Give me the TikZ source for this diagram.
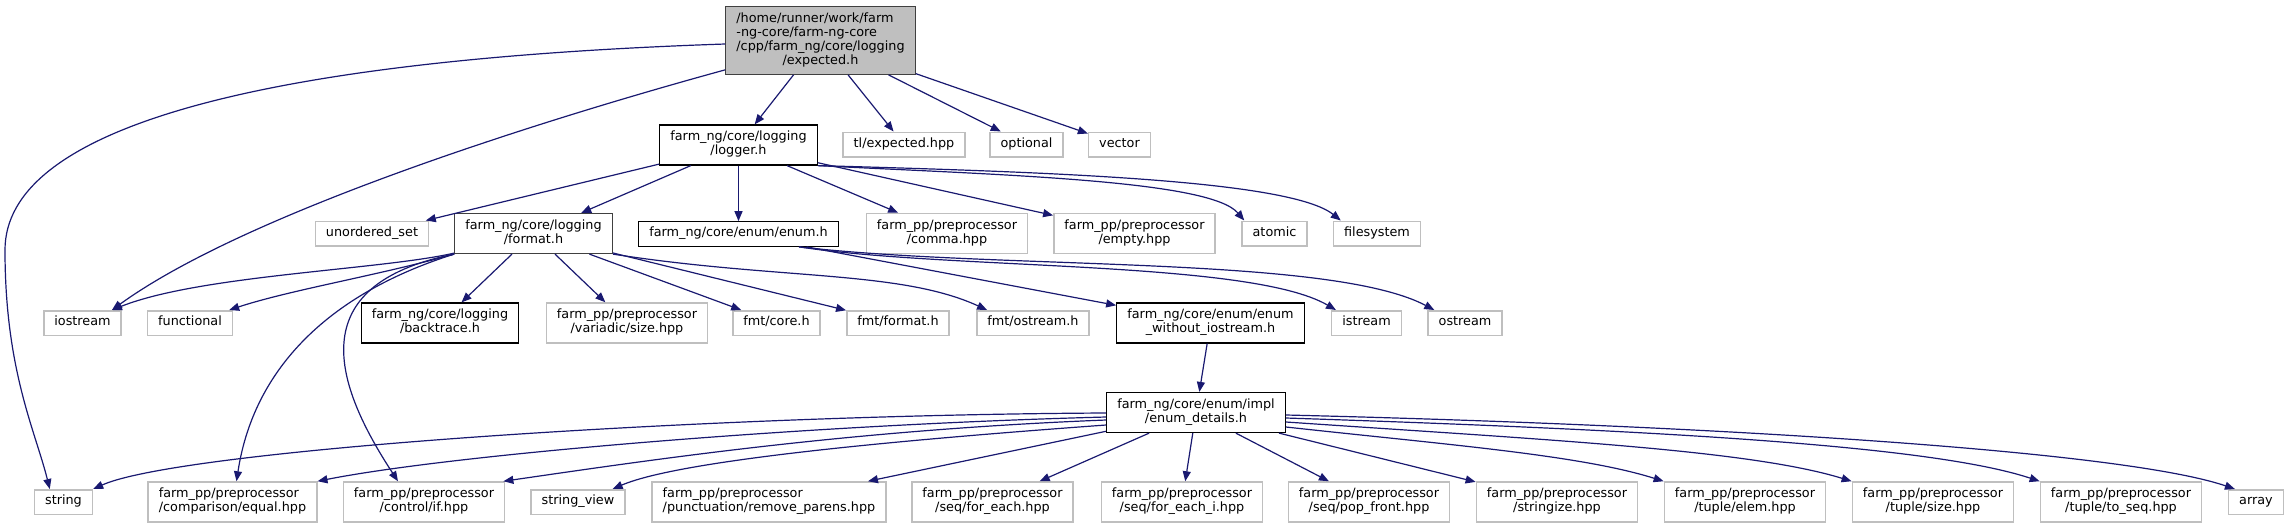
\documentclass[tikz,border=0pt]{standalone}
\usepackage{fontspec}
\setmainfont{DejaVu Sans}
\usepackage{tikz}
\usetikzlibrary{arrows.meta,calc}
\usepackage{xcolor}
\definecolor{edgeblue}{HTML}{191970}
\definecolor{sysgrey}{HTML}{BFBFBF}
\definecolor{darkframe}{HTML}{404040}
\newcommand{\doxfont}{\fontsize{12.8}{14.2}\selectfont}

\begin{document}
\begin{tikzpicture}[x=1pt,y=-1pt,font=\doxfont,
  file/.style={draw=black,line width=1.2pt,inner xsep=10.6pt,inner ysep=0pt,minimum height=24.5pt,execute at begin node=\strut,execute at end node=\strut},
  sys/.style={file,draw=sysgrey,line width=1.5pt},
  two/.style={align=center,minimum height=40pt},
  twol/.style={align=left,minimum height=40pt},
  dep/.style={draw=edgeblue,line width=1.2pt,-{Triangle[length=10pt,width=8pt]}}]
\useasboundingbox (0,0) rectangle (2289,528);

\node[file,draw=darkframe,fill=sysgrey,minimum height=67.5pt] (exp) at (820.5,40.5) {\begin{tabular}{@{}l@{}}/home/runner/work/farm\\-ng-core/farm-ng-core\\/cpp/farm\_ng/core/logging\\\multicolumn{1}{@{}c@{}}{/expected.h}\end{tabular}};

\node[file,two] (logger) at (738.5,145) {farm\_ng/core/logging\\/logger.h};
\node[sys] (tlexp) at (904,144.5) {tl/expected.hpp}; \node[sys] (optional) at (1026.5,144.5) {optional}; \node[sys] (vector) at (1119.5,144.5) {vector};

\node[sys] (uset) at (372,233.5) {unordered\_set};
\node[file,two,draw=darkframe] (format) at (533.5,233.5) {farm\_ng/core/logging\\/format.h};
\node[file] (enumh) at (738.5,234) {farm\_ng/core/enum/enum.h};
\node[sys,two] (comma) at (947,233.5) {farm\_pp/preprocessor\\/comma.hpp};
\node[sys,two] (empty) at (1134.5,233.5) {farm\_pp/preprocessor\\/empty.hpp};
\node[sys] (atomic) at (1274.5,233.5) {atomic}; \node[sys] (fsys) at (1377,233.5) {filesystem};

\node[sys] (iostream) at (82.5,323) {iostream}; \node[sys] (functional) at (190,323) {functional};
\node[file,two] (backtrace) at (440,323) {farm\_ng/core/logging\\/backtrace.h};
\node[sys,two] (vsize) at (627,323) {farm\_pp/preprocessor\\/variadic/size.hpp};
\node[sys] (fmtcore) at (776.5,323) {fmt/core.h}; \node[sys] (fmtformat) at (898,323) {fmt/format.h}; \node[sys] (fmtostream) at (1033,323) {fmt/ostream.h};
\node[file,two] (enumwo) at (1210.5,323) {farm\_ng/core/enum/enum\\\_without\_iostream.h};
\node[sys] (istream) at (1366.5,323) {istream}; \node[sys] (ostream) at (1465,323) {ostream};

\node[file,two] (details) at (1196,412.5) {farm\_ng/core/enum/impl\\/enum\_details.h};

\node[sys] (string) at (63.5,502) {string};
\node[sys,twol] (equal) at (232.5,502) {farm\_pp/preprocessor\\/comparison/equal.hpp};
\node[sys,two] (ifhpp) at (424,502) {farm\_pp/preprocessor\\/control/if.hpp};
\node[sys] (strview) at (578,502) {string\_view};
\node[sys,twol] (rmparens) at (769,502) {farm\_pp/preprocessor\\/punctuation/remove\_parens.hpp};
\node[sys,two] (foreach) at (992.5,502) {farm\_pp/preprocessor\\/seq/for\_each.hpp};
\node[sys,two] (foreachi) at (1182,502) {farm\_pp/preprocessor\\/seq/for\_each\_i.hpp};
\node[sys,two] (popfront) at (1369,502) {farm\_pp/preprocessor\\/seq/pop\_front.hpp};
\node[sys,two] (stringize) at (1557,502) {farm\_pp/preprocessor\\/stringize.hpp};
\node[sys,two] (tupelem) at (1745,502) {farm\_pp/preprocessor\\/tuple/elem.hpp};
\node[sys,two] (tupsize) at (1933,502) {farm\_pp/preprocessor\\/tuple/size.hpp};
\node[sys,two] (toseq) at (2121,502) {farm\_pp/preprocessor\\/tuple/to\_seq.hpp};
\node[sys] (array) at (2256,502) {array};

\draw[dep] ([yshift=-3.5pt]exp.west) .. controls (250,60) and (5,130) .. (5,250) .. controls (5,370) and (35,430) .. ([xshift=16pt]string.north west);
\draw[dep] ([yshift=5pt]exp.south west) .. controls (560,115) and (250,210) .. ([xshift=-10pt]iostream.north east);
\draw[dep] (exp) -- (logger); \draw[dep] (exp) -- (tlexp); \draw[dep] (exp) -- (optional); \draw[dep] (exp) -- (vector);

\draw[dep] (logger) -- (uset); \draw[dep] (logger) -- (format); \draw[dep] (logger) -- (enumh);
\draw[dep] (logger) -- (comma); \draw[dep] (logger) -- (empty);
\draw[dep] (logger.south east) .. controls (1000,175) and (1210,180) .. ([xshift=3pt]atomic.north west);
\draw[dep] (logger.south east) .. controls (1050,172) and (1290,180) .. ([xshift=8pt]fsys.north west);

\draw[dep] ([yshift=1pt]format.south west) .. controls (380,270) and (200,275) .. ([xshift=-10pt]iostream.north east);
\draw[dep] (format.south west) .. controls (380,275) and (290,290) .. ([xshift=-4pt]functional.north east);
\draw[dep] (format.south west) .. controls (340,290) and (255,360) .. ([xshift=4pt]equal.north);
\draw[dep] (format.south west) .. controls (300,285) and (335,385) .. ([xshift=-26pt]ifhpp.north);
\draw[dep] (format) -- (backtrace); \draw[dep] (format) -- (vsize); \draw[dep] (format) -- (fmtcore); \draw[dep] (format) -- (fmtformat);
\draw[dep] (format.south east) .. controls (780,280) and (900,270) .. ([xshift=11pt]fmtostream.north west);

\draw[dep] (enumh) -- (enumwo);
\draw[dep] ([xshift=-40pt]enumh.south east) .. controls (950,270) and (1250,260) .. ([xshift=5pt]istream.north west);
\draw[dep] ([xshift=-40pt]enumh.south east) .. controls (1000,270) and (1330,255) .. ([xshift=7pt]ostream.north west);

\draw[dep] (enumwo) -- (details);

\draw[dep] ([yshift=-0.5pt]details.west) .. controls (700,415) and (180,450) .. (string.north east);
\draw[dep] ([yshift=-4.5pt]details.west) .. controls (800,425) and (450,455) .. (equal.north east);
\draw[dep] ([yshift=-7.5pt]details.west) .. controls (850,430) and (650,460) .. ([xshift=-2pt]ifhpp.north east);
\draw[dep] ([yshift=-12.5pt]details.west) .. controls (900,440) and (680,460) .. ([xshift=-13pt]strview.north east);
\draw[dep] (details) -- (rmparens); \draw[dep] (details) -- (foreach); \draw[dep] (details) -- (foreachi);
\draw[dep] (details) -- (popfront); \draw[dep] (details) -- (stringize);
\draw[dep] ([yshift=-14.5pt]details.east) .. controls (1450,445) and (1580,455) .. (tupelem.north west);
\draw[dep] ([yshift=-9.5pt]details.east) .. controls (1550,440) and (1750,450) .. (tupsize.north west);
\draw[dep] ([yshift=-5.5pt]details.east) .. controls (1650,430) and (1930,445) .. (toseq.north west);
\draw[dep] ([yshift=-2.5pt]details.east) .. controls (1700,425) and (2120,450) .. ([xshift=7pt]array.north west);
\end{tikzpicture}
\end{document}
